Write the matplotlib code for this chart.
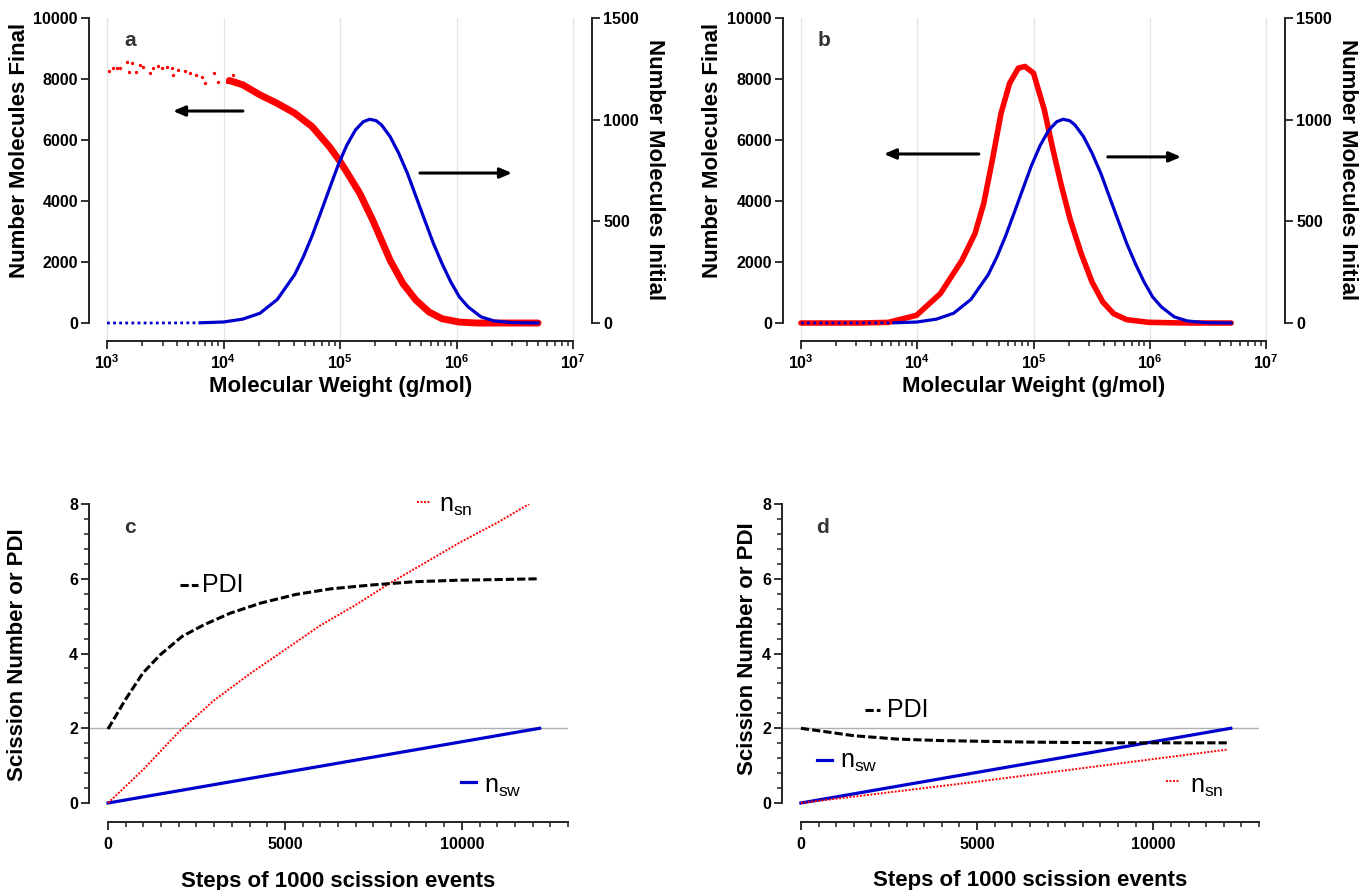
import matplotlib

matplotlib.use("Agg")
import matplotlib.pyplot as plt
import numpy as np
from matplotlib.ticker import FixedLocator, NullFormatter

plt.rcParams["font.family"] = ["Liberation Sans", "DejaVu Sans"]
plt.rcParams["font.weight"] = "bold"
plt.rcParams["axes.labelweight"] = "bold"
plt.rcParams["mathtext.fontset"] = "custom"
plt.rcParams["mathtext.rm"] = "Liberation Sans:weight=normal"
plt.rcParams["mathtext.bf"] = "Liberation Sans:weight=bold"

# --- initial distribution (right axis, same in a and b) ---
BLUE_LOGMW = [3.0, 3.4, 3.8, 4.0, 4.165, 4.313, 4.462, 4.611, 4.686, 4.760, 4.834,
              4.909, 4.983, 5.058, 5.132, 5.200, 5.255, 5.310, 5.355, 5.430, 5.504,
              5.579, 5.653, 5.727, 5.802, 5.876, 5.951, 6.025, 6.100, 6.211, 6.323,
              6.472, 6.70]
BLUE_N = [0, 0, 1, 5, 19, 48, 116, 238, 326, 428, 542, 660, 775, 874, 949, 990, 1002,
          995, 975, 917, 835, 736, 621, 506, 391, 292, 202, 128, 79, 30, 10, 2, 0]

# --- final distribution, panel a (left axis) ---
RED_A_LOGMW = [4.05, 4.165, 4.313, 4.462, 4.611, 4.760, 4.909, 5.0, 5.058, 5.170, 5.281,
               5.355, 5.430, 5.541, 5.653, 5.765, 5.876, 6.025, 6.174, 6.40, 6.70]
RED_A_N = [7950, 7810, 7480, 7200, 6880, 6440, 5780, 5300, 4950, 4250, 3370, 2720, 2060,
           1290, 745, 360, 140, 30, 0, 0, 0]
# sparse low-MW scatter, panel a
RED_A_DOT_MW = [1040, 1119, 1211, 1294, 1475, 1553, 1650, 1763, 1919, 2049, 2339, 2496,
                2757, 2943, 3250, 3589, 3706, 4093, 4673, 5156, 5804, 6500, 6935, 8285,
                9020, 10650, 11990, 12560]
RED_A_DOT_N = [8262, 8350, 8350, 8370, 8570, 8240, 8510, 8240, 8450, 8400, 8190, 8350,
               8430, 8350, 8400, 8350, 8130, 8300, 8270, 8190, 8130, 8080, 7880, 8210,
               7910, 7910, 8130, 7970]

# --- final distribution, panel b (left axis) ---
RED_B_LOGMW = [3.0, 3.5, 3.75, 3.994, 4.199, 4.385, 4.497, 4.572, 4.646, 4.721, 4.795,
               4.870, 4.926, 5.0, 5.093, 5.168, 5.242, 5.317, 5.410, 5.503, 5.596, 5.689,
               5.80, 5.99, 6.3, 6.7]
RED_B_N = [0, 0, 20, 252, 964, 2059, 2935, 3921, 5345, 6878, 7864, 8357, 8412, 8193,
           6988, 5674, 4469, 3373, 2278, 1347, 690, 307, 110, 22, 0, 0]

# --- scission numbers / PDI vs step ---
C_PDI_STEP = [0, 494, 988, 1481, 2099, 2716, 3457, 4321, 5309, 6296, 7407, 8642, 9877,
              11111, 12200]
C_PDI = [1.98, 2.77, 3.48, 3.97, 4.46, 4.77, 5.08, 5.35, 5.58, 5.73, 5.83, 5.92, 5.96,
         5.98, 6.0]
C_NSN_STEP = [0, 1000, 2000, 3000, 4000, 5000, 6000, 7000, 8000, 9000, 10000, 11000, 11900]
C_NSN = [0, 0.9, 1.9, 2.75, 3.45, 4.1, 4.75, 5.3, 5.9, 6.45, 7.0, 7.5, 8.0]
C_NSW_STEP = [0, 12200]
C_NSW = [0, 2.0]

D_PDI_STEP = [0, 1506, 2741, 3975, 6444, 8914, 12148]
D_PDI = [2.0, 1.80, 1.71, 1.67, 1.63, 1.61, 1.61]
D_NSN_STEP = [0, 5000, 12100]
D_NSN = [0, 0.57, 1.43]
D_NSW_STEP = [0, 12200]
D_NSW = [0, 2.0]

W, H = 1360, 890
SPINE = "#222222"
TICK_FS = 11.5
LABEL_FS = 16


def rect(x0, y0, x1, y1):
    return [x0 / W, 1 - y1 / H, (x1 - x0) / W, (y1 - y0) / H]


def style_ticks(ax, axis="both"):
    ax.tick_params(axis=axis, which="major", direction="out", length=6, width=1.3,
                   labelsize=TICK_FS, pad=2, color=SPINE)
    ax.tick_params(axis=axis, which="minor", direction="out", length=3.5, width=1.1,
                   color=SPINE)


def mw_panel(fig, box, red_logmw, red_n, red_lw, tag, arrows, ylab_x):
    ax = fig.add_axes(rect(*box))
    ax2 = ax.twinx()
    ax.set_xscale("log")
    ax.set_xlim(10 ** (3 - 18 / 116.5), 10 ** (7 + 19 / 116.5))
    ax.set_ylim(-590, 10000)
    ax2.set_ylim(-88.5, 1500)

    ax.xaxis.set_major_locator(FixedLocator([1e3, 1e4, 1e5, 1e6, 1e7]))
    ax.set_xticklabels([r"$\mathbf{10^{%d}}$" % d for d in range(3, 8)], fontsize=12.5)
    ax.xaxis.set_minor_locator(FixedLocator([k * 10.0 ** d for d in range(3, 7)
                                             for k in range(2, 10)]))
    ax.xaxis.set_minor_formatter(NullFormatter())
    ax.set_yticks(range(0, 10001, 2000))
    ax2.set_yticks([0, 500, 1000, 1500])
    ax.grid(True, axis="x", which="major", color="#e4e4e4", lw=0.9)

    for s in ("top", "right"):
        ax.spines[s].set_visible(False)
    for s in ("top", "left", "bottom"):
        ax2.spines[s].set_visible(False)
    ax.spines["left"].set_bounds(0, 10000)
    ax.spines["bottom"].set_bounds(1e3, 1e7)
    ax2.spines["right"].set_bounds(0, 1500)
    for sp in (ax.spines["left"], ax.spines["bottom"], ax2.spines["right"]):
        sp.set_linewidth(1.4)
        sp.set_color(SPINE)
    style_ticks(ax)
    style_ticks(ax2, "y")
    ax.tick_params(axis="x", which="major", pad=3)

    mw = 10 ** np.array(red_logmw)
    ax.plot(mw, red_n, color="#ff0000", lw=red_lw, solid_capstyle="round")

    blog = np.array(BLUE_LOGMW)
    bmw = 10 ** blog
    bn = np.array(BLUE_N)
    lo = blog <= 3.8
    hi = blog >= 3.8
    ax2.plot(bmw[lo], bn[lo], color="#0000cc", lw=2.0, ls=(0, (1, 1.2)))
    ax2.plot(bmw[hi], bn[hi], color="#0000cc", lw=2.3)

    ax.set_xlabel("Molecular Weight (g/mol)", fontsize=LABEL_FS)
    ax.xaxis.set_label_coords(0.50, -0.108)
    ax.set_ylabel("Number Molecules Final", fontsize=LABEL_FS)
    ax.yaxis.set_label_coords(ylab_x, 0.59)
    ax2.set_ylabel("Number Molecules Initial", fontsize=LABEL_FS, rotation=270,
                   va="center")
    ax2.yaxis.set_label_coords(1.125, 0.53)

    ax.text(0.082, 0.93, tag, transform=ax.transAxes, fontsize=15, color="#333333",
            ha="center", va="center")
    for (tx, hx, fy) in arrows:
        ax.annotate("", xy=(hx, fy), xytext=(tx, fy), xycoords="axes fraction",
                    textcoords="axes fraction",
                    arrowprops=dict(arrowstyle="-|>,head_length=0.7,head_width=0.3",
                                    color="black", lw=2.2, shrinkA=0, shrinkB=0))
    return ax, ax2


def step_panel(fig, box, tag, series, legends, ylab_x, ylab_y, xlab_y):
    ax = fig.add_axes(rect(*box))
    ax.set_xlim(-537, 13000)
    ax.set_ylim(-0.508, 8)
    ax.axhline(2, color="#b0b0b0", lw=1.0, zorder=1)

    for xs, ys, kw in series:
        ax.plot(xs, ys, **kw)

    ax.set_xticks([0, 5000, 10000])
    ax.xaxis.set_minor_locator(FixedLocator(list(range(0, 13001, 500))))
    ax.set_yticks([0, 2, 4, 6, 8])
    ax.yaxis.set_minor_locator(FixedLocator(list(np.arange(0, 8.01, 0.4))))
    for s in ("top", "right"):
        ax.spines[s].set_visible(False)
    ax.spines["left"].set_bounds(0, 8)
    ax.spines["bottom"].set_bounds(0, 13000)
    for s in ("left", "bottom"):
        ax.spines[s].set_linewidth(1.4)
        ax.spines[s].set_color(SPINE)
    style_ticks(ax)
    ax.tick_params(axis="x", which="major", pad=5)

    ax.set_xlabel("Steps of 1000 scission events", fontsize=LABEL_FS)
    ax.xaxis.set_label_coords(0.52, xlab_y)
    ax.set_ylabel("Scission Number or PDI", fontsize=LABEL_FS)
    ax.yaxis.set_label_coords(ylab_x, ylab_y)
    ax.text(0.085, 0.925, tag, transform=ax.transAxes, fontsize=15, color="#333333",
            ha="center", va="center")

    for (x0, x1, ly, tx, ty, text, kw) in legends:
        ax.plot([x0, x1], [ly, ly], transform=ax.transAxes, clip_on=False, **kw)
        ax.text(tx, ty, text, transform=ax.transAxes, fontsize=18, fontweight="normal",
                ha="left", va="baseline")
    return ax


fig = plt.figure(figsize=(W / 100, H / 100), dpi=100)

ax_a, _ = mw_panel(fig, (89, 18, 592, 341), RED_A_LOGMW, RED_A_N, 5.0, "a",
                   [(0.306, 0.167, 0.712), (0.658, 0.841, 0.520)], -0.117)
ax_a.plot(RED_A_DOT_MW, RED_A_DOT_N, ls="none", marker="o", ms=2.4, color="#ff0000",
          mec="none")
mw_panel(fig, (783, 18, 1285, 341), RED_B_LOGMW, RED_B_N, 4.0, "b",
         [(0.390, 0.201, 0.579), (0.647, 0.793, 0.570)], -0.120)

pdi_kw = dict(color="black", lw=2.2, ls=(0, (2.7, 1.0)))
nsn_kw = dict(color="#ff0000", lw=1.4, ls=(0, (1, 0.8)))
nsw_kw = dict(color="#0000cc", lw=2.3)

step_panel(fig, (89, 504, 568, 822), "c",
           [(C_NSW_STEP, C_NSW, nsw_kw), (C_NSN_STEP, C_NSN, nsn_kw),
            (C_PDI_STEP, C_PDI, pdi_kw)],
           [(0.190, 0.228, 0.745, 0.236, 0.722, "PDI", pdi_kw),
            (0.685, 0.712, 1.006, 0.731, 0.975, r"$\mathrm{n_{sn}}$", nsn_kw),
            (0.777, 0.808, 0.126, 0.825, 0.091, r"$\mathrm{n_{sw}}$", nsw_kw)],
           -0.127, 0.525, -0.154)

step_panel(fig, (782, 504, 1259, 822), "d",
           [(D_NSW_STEP, D_NSW, nsw_kw), (D_NSN_STEP, D_NSN, nsn_kw),
            (D_PDI_STEP, D_PDI, pdi_kw)],
           [(0.174, 0.205, 0.352, 0.220, 0.329, "PDI", pdi_kw),
            (0.073, 0.105, 0.195, 0.122, 0.170, r"$\mathrm{n_{sw}}$", nsw_kw),
            (0.805, 0.834, 0.129, 0.855, 0.091, r"$\mathrm{n_{sn}}$", nsn_kw)],
           -0.050, 0.544, -0.150)

fig.savefig("out.png", dpi=100)
